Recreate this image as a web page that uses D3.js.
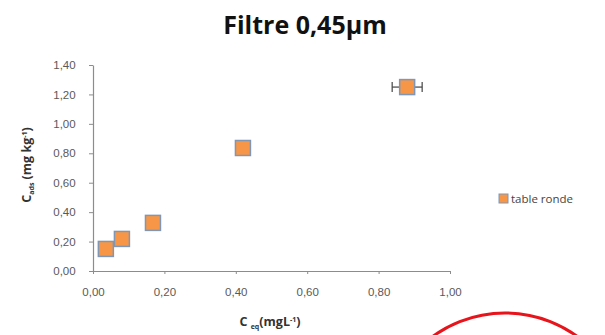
<!DOCTYPE html>
<html>
<head>
<meta charset="utf-8">
<script src="https://cdn.jsdelivr.net/npm/d3@7/dist/d3.min.js"></script>
<style>
  html, body { margin: 0; padding: 0; background: #fff; }
  svg { display: block; font-family: "Open Sans", "Liberation Sans", sans-serif; }
</style>
</head>
<body>
<svg id="chart" width="605" height="335"></svg>
<script>
// Adsorption data, filter 0.45 µm
const ceq = [0.036, 0.081, 0.168, 0.42, 0.88];
const cads = [0.15, 0.218, 0.327, 0.836, 1.25];
const ceqErr = [0, 0, 0, 0, 0.042];
const seriesName = "table ronde";
const xTicks = [0, 0.2, 0.4, 0.6, 0.8, 1.0];
const yTicks = [0, 0.2, 0.4, 0.6, 0.8, 1.0, 1.2, 1.4];

const svg = d3.select("#chart");
const fmt = v => d3.format(".2f")(v).replace(".", ",");

const x = d3.scaleLinear().domain([0, 1]).range([93, 450]);
const y = d3.scaleLinear().domain([0, 1.4]).range([271, 65]);

const axisColor = "#8c8c8c";
const labelColor = "#595959";

// Title
svg.append("text")
  .attr("x", 305).attr("y", 34)
  .attr("text-anchor", "middle")
  .attr("font-size", 25).attr("font-weight", "bold")
  .attr("fill", "#111")
  .text("Filtre 0,45μm");

// Axes
const xAxis = svg.append("g").attr("transform", `translate(0,${y(0)})`)
  .call(d3.axisBottom(x).tickValues(xTicks).tickFormat(fmt).tickSize(4).tickSizeOuter(0));
const yAxis = svg.append("g").attr("transform", `translate(${x(0)},0)`)
  .call(d3.axisLeft(y).tickValues(yTicks).tickFormat(fmt).tickSize(4).tickSizeOuter(0));

[xAxis, yAxis].forEach(g => {
  g.select(".domain").attr("stroke", axisColor).attr("stroke-width", 1.2);
  g.selectAll(".tick line").attr("stroke", axisColor);
  g.selectAll(".tick text").attr("fill", labelColor).attr("font-size", 11.5);
});
xAxis.selectAll(".tick line").attr("y2", 3);
xAxis.selectAll(".tick text").attr("dy", "1.55em");
yAxis.selectAll(".tick text").attr("dx", "-0.9em");

// Axis titles
const yLab = svg.append("text")
  .attr("transform", "translate(31,165) rotate(-90)")
  .attr("text-anchor", "middle")
  .attr("font-size", 12.5).attr("font-weight", "bold").attr("fill", "#333");
yLab.append("tspan").text("C");
yLab.append("tspan").attr("font-size", 7).attr("dy", 3).text("ads");
yLab.append("tspan").attr("dy", -3).text(" (mg kg");
yLab.append("tspan").attr("font-size", 7).attr("dy", -4).text("-1");
yLab.append("tspan").attr("dy", 4).text(")");

const xLab = svg.append("text")
  .attr("x", 270).attr("y", 326)
  .attr("text-anchor", "middle")
  .attr("font-size", 12.5).attr("font-weight", "bold").attr("fill", "#333");
xLab.append("tspan").text("C ");
xLab.append("tspan").attr("font-size", 7).attr("dy", 3).text("eq");
xLab.append("tspan").attr("dy", -3).text("(mgL");
xLab.append("tspan").attr("font-size", 7).attr("dy", -4).text("-1");
xLab.append("tspan").attr("dy", 4).text(")");

// Horizontal error bars
const data = ceq.map((v, i) => ({ x: v, y: cads[i], e: ceqErr[i] }));
const eb = svg.append("g").selectAll("g").data(data.filter(d => d.e > 0)).join("g")
  .attr("stroke", "#444").attr("stroke-width", 1.2);
eb.append("line")
  .attr("x1", d => x(d.x - d.e)).attr("x2", d => x(d.x + d.e))
  .attr("y1", d => y(d.y)).attr("y2", d => y(d.y));
eb.append("line")
  .attr("x1", d => x(d.x - d.e)).attr("x2", d => x(d.x - d.e))
  .attr("y1", d => y(d.y) - 5).attr("y2", d => y(d.y) + 5);
eb.append("line")
  .attr("x1", d => x(d.x + d.e)).attr("x2", d => x(d.x + d.e))
  .attr("y1", d => y(d.y) - 5).attr("y2", d => y(d.y) + 5);

// Square markers
const size = 15;
svg.append("g").selectAll("rect").data(data).join("rect")
  .attr("x", d => x(d.x) - size / 2).attr("y", d => y(d.y) - size / 2)
  .attr("width", size).attr("height", size)
  .attr("fill", "#F79646").attr("stroke", "#7f97b5").attr("stroke-width", 1.5);

// Legend
svg.append("rect").attr("x", 499).attr("y", 194).attr("width", 9).attr("height", 9)
  .attr("fill", "#F79646").attr("stroke", "#7f97b5").attr("stroke-width", 1);
svg.append("text").attr("x", 511).attr("y", 203)
  .attr("font-size", 11.5).attr("fill", "#444").text(seriesName);

// Red annotation circle
svg.append("circle").attr("cx", 505).attr("cy", 436).attr("r", 123)
  .attr("fill", "none").attr("stroke", "#e8141b").attr("stroke-width", 3);
</script>
</body>
</html>
